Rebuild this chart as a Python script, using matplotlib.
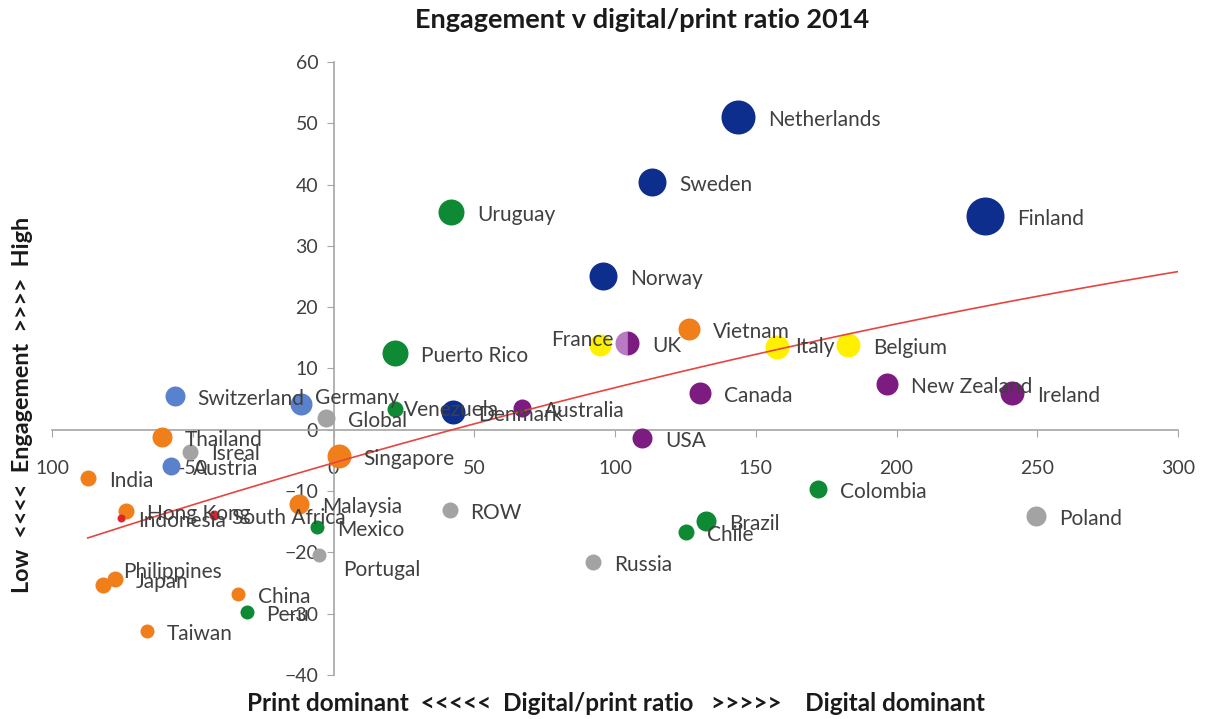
"""
plot.py
Engagement v digital/print ratio 2014 - bubble scatter with trend line.
"""

import numpy as np
import matplotlib
matplotlib.use("Agg")
import matplotlib.pyplot as plt

# ---------------------------------------------------------------------------
# Data
# ---------------------------------------------------------------------------
COUNTRIES = [
    "Netherlands", "Sweden", "Finland", "Norway", "Denmark",
    "Switzerland", "Germany", "Austria",
    "Uruguay", "Puerto Rico", "Venezuela", "Mexico", "Peru",
    "Colombia", "Brazil", "Chile",
    "Vietnam", "Thailand", "Singapore", "India", "Hong Kong",
    "Malaysia", "Philippines", "Japan", "China", "Taiwan",
    "Indonesia", "South Africa",
    "France", "Italy", "Belgium",
    "UK", "Australia", "USA", "Canada", "New Zealand", "Ireland",
    "Global", "Isreal", "ROW", "Portugal", "Russia", "Poland",
]

# digital/print ratio
RATIO = [
    143.8, 113.2, 231.5, 95.8, 42.6,
    -56.4, -11.7, -57.9,
    41.9, 21.7, 21.7, -6.0, -30.9,
    172.2, 132.4, 125.3,
    126.4, -61.1, 1.8, -87.3, -73.8,
    -12.1, -82.0, -77.7, -34.1, -66.4,
    -75.6, -42.6,
    94.8, 157.6, 182.8,
    104.4, 67.1, 109.7, 130.3, 196.7, 241.0,
    -2.5, -51.1, 41.2, -5.0, 92.3, 249.6,
]

# engagement
ENGAGEMENT = [
    51.1, 40.5, 34.9, 25.1, 2.9,
    5.5, 4.2, -5.9,
    35.6, 12.6, 3.4, -15.8, -29.7,
    -9.6, -14.8, -16.6,
    16.5, -1.1, -4.2, -7.8, -13.2,
    -12.1, -25.4, -24.3, -26.8, -32.9,
    -14.4, -13.9,
    13.9, 13.5, 13.9,
    14.2, 3.6, -1.3, 6.0, 7.5, 6.0,
    2.0, -3.7, -13.1, -20.4, -21.5, -14.0,
]

# bubble size (relative)
BUBBLE = [
    17, 14, 19, 14, 12,
    10, 11, 9,
    13, 13, 8, 7, 7,
    9, 10, 8,
    11, 10, 12, 8, 8,
    10, 8, 8, 7, 7,
    4, 5,
    11, 12, 12,
    12, 9, 10, 11, 11, 12,
    9, 8, 8, 7, 8, 10,
]

REGION = (["nordic"] * 5 + ["dach"] * 3 + ["latam"] * 8 + ["asia"] * 10
          + ["red"] * 2 + ["latin_eu"] * 3 + ["anglo"] * 6 + ["other"] * 6)

# order-2 polynomial trend line as shown on the chart (highest power first)
TREND_COEF = [-9.36e-5, 0.1321, -5.4]
TREND_X_END = 300

X_TICKS = [-100, -50, 0, 50, 100, 150, 200, 250, 300]
X_TICK_LABELS = ["100", "-50", "0", "50", "100", "150", "200", "250", "300"]
Y_TICKS = [-40, -30, -20, -10, 0, 10, 20, 30, 40, 50, 60]

TITLE = "Engagement v digital/print ratio 2014"
X_LABEL = "Print dominant  <<<<<  Digital/print ratio   >>>>>    Digital dominant"
Y_LABEL = "Low  <<<<  Engagement  >>>>  High"

# ---------------------------------------------------------------------------
# Style
# ---------------------------------------------------------------------------
COLORS = {
    "nordic": "#0E2E8E",
    "dach": "#5A82CC",
    "latam": "#0F8A34",
    "asia": "#F07E1B",
    "red": "#E0232C",
    "latin_eu": "#FFF000",
    "anglo": "#7C1C80",
    "other": "#A3A3A3",
}
AXIS_GREY = "#A6A6A6"
TEXT_GREY = "#404040"
FONT = ["Lato", "DejaVu Sans"]

# label offsets in pixels for labels that are not right of the marker
LABEL_SHIFT = {
    "France": (13, 5, "right"),
    "Italy": (18, 0, "left"),
    "Venezuela": (9, -1, "left"),
    "Germany": (14, 6, "left"),
    "Philippines": (20, 13, "left"),
    "Portugal": (24, -15, "left"),
    "Isreal": (21, -2, "left"),
}


def main():
    plt.rcParams["font.family"] = FONT

    fig = plt.figure(figsize=(12.07, 7.19), dpi=100)
    ax = fig.add_axes([0.0431, 0.0612, 0.9329, 0.8526])
    ax.set_xlim(-100, 300)
    ax.set_ylim(-40, 60)

    for side in ("top", "right"):
        ax.spines[side].set_visible(False)
    ax.spines["left"].set_position(("data", 0))
    ax.spines["bottom"].set_position(("data", 0))
    for side in ("left", "bottom"):
        ax.spines[side].set_color(AXIS_GREY)
        ax.spines[side].set_linewidth(1.2)

    ax.set_xticks(X_TICKS)
    ax.set_xticklabels(X_TICK_LABELS)
    ax.set_yticks(Y_TICKS)
    ax.tick_params(axis="both", direction="out", length=5, color=AXIS_GREY,
                   labelcolor=TEXT_GREY, labelsize=14)
    ax.tick_params(axis="x", pad=17)
    ax.tick_params(axis="y", pad=6)

    x = np.array(RATIO)
    y = np.array(ENGAGEMENT)
    r = np.array(BUBBLE, dtype=float)
    sizes = (2 * r * 0.72) ** 2

    for i, name in enumerate(COUNTRIES):
        col = COLORS[REGION[i]]
        if name == "UK":
            # half-shaded marker like the original
            ax.plot(x[i], y[i], marker="o", ms=2 * r[i] * 0.72, ls="none",
                    fillstyle="left", markerfacecolor="#B87AC0",
                    markerfacecoloralt=col, markeredgewidth=0, zorder=3)
        else:
            ax.scatter(x[i], y[i], s=sizes[i], color=col, linewidths=0,
                       zorder=3)

    # trend line
    xt = np.linspace(x.min(), TREND_X_END, 200)
    ax.plot(xt, np.polyval(TREND_COEF, xt), color="#E8443F", lw=1.2, zorder=4)

    for i, name in enumerate(COUNTRIES):
        if name in LABEL_SHIFT:
            dx, dy, ha = LABEL_SHIFT[name]
        else:
            dx, dy, ha = r[i] + 13, -3, "left"
        ax.annotate(name, (x[i], y[i]), xytext=(dx, dy),
                    textcoords="offset pixels", ha=ha, va="center",
                    fontsize=15, color=TEXT_GREY, zorder=5)

    fig.text(0.532, 0.972, TITLE, ha="center", va="center",
             fontsize=19.5, fontweight="bold", color="#1A1A1A")
    fig.text(0.51, 0.022, X_LABEL, ha="center", va="center",
             fontsize=17.5, fontweight="bold", color="#1A1A1A")
    fig.text(0.019, 0.437, Y_LABEL, ha="center", va="center", rotation=90,
             fontsize=16.8, fontweight="bold", color="#1A1A1A")

    fig.savefig("out.png", dpi=100, facecolor="white")


if __name__ == "__main__":
    main()
